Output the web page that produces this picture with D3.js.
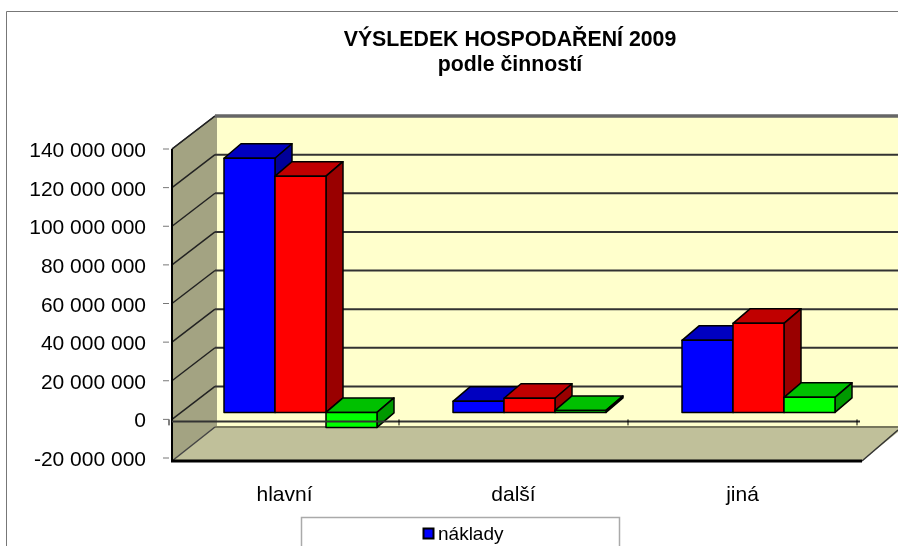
<!DOCTYPE html>
<html><head><meta charset="utf-8">
<script src="https://cdn.jsdelivr.net/npm/d3@7/dist/d3.min.js"></script>
<style>html,body{margin:0;padding:0;background:#fff;overflow:hidden}svg{display:block}text{font-family:"Liberation Sans",Arial,sans-serif;fill:#000}</style>
</head><body><svg id="c" width="898" height="546"></svg>
<script>
const categories = ["hlavní", "další", "jiná"];
const seriesNames = ["náklady", "výnosy", "výsledek"];
const naklady = [131600000, 5700000, 37300000];
const vynosy = [122300000, 7300000, 46100000];
const vysledek = [-7800000, 1000000, 7800000];
const yTicks = [-20000000, 0, 20000000, 40000000, 60000000, 80000000, 100000000, 120000000, 140000000];
const titleLines = ["VÝSLEDEK HOSPODAŘENÍ 2009", "podle činností"];
const fronts = ["#0000ff", "#ff0000", "#00ff00"];
const tops = ["#0000c0", "#c00000", "#00c000"];
const sides = ["#000099", "#990000", "#009900"];

const series = [naklady, vynosy, vysledek];
const svg = d3.select("#c");
const defs = svg.append("defs");
defs.append("filter").attr("id", "soft")
  .attr("filterUnits","userSpaceOnUse").attr("x",0).attr("y",0).attr("width",898).attr("height",546)
  .append("feGaussianBlur").attr("stdDeviation", 0.45);
const root = svg.append("g").attr("filter", "url(#soft)");

const DX = 43, DY = -33, W = 898;
const y = d3.scaleLinear().domain([-20000000, 140000000]).range([458, 149]);
const x = d3.scaleBand().domain(categories).range([170, 857]);
const groupInset = 54, groupWidth = 153;
const sx = d3.scaleBand().domain(d3.range(3)).range([0, groupWidth]);
const barShiftY = -7, bdx = 17, bdy = -14.5;
const poly = (g, pts, fill, stroke, sw) => g.append("polygon").attr("points", pts.map(p => p.join(",")).join(" "))
  .attr("fill", fill).attr("stroke", stroke || "none").attr("stroke-width", sw || 0).attr("stroke-linejoin", "round");
const line = (g, a, b, c, w) => g.append("line").attr("x1", a[0]).attr("y1", a[1]).attr("x2", b[0]).attr("y2", b[1]).attr("stroke", c).attr("stroke-width", w);

// outer frame
root.append("path").attr("d", "M6.5 546V11.5H898").attr("fill", "none").attr("stroke", "#777").attr("stroke-width", 1);

// title
titleLines.forEach((t, i) => root.append("text").attr("x", 510).attr("y", 46 + i * 25).attr("text-anchor", "middle")
  .attr("font-weight", "bold").attr("font-size", 21.3).text(t));

// walls
const x0 = 172, yLo = y(-20000000), yHi = y(140000000);
poly(root, [[x0 + DX, yHi + DY], [W, yHi + DY], [W, yLo + DY + 2], [x0 + DX, yLo + DY + 2]], "#ffffcc");
poly(root, [[x0, yHi], [x0 + DX, yHi + DY], [x0 + DX + 2, yHi + DY], [x0 + DX + 2, yLo + DY + 2], [x0, yLo + 3]], "#a3a382");
poly(root, [[x0, yLo + 3], [x0 + DX, yLo + DY + 2], [W, yLo + DY + 2], [W, yLo + DY + 7], [862, yLo + 3]], "#c0c09a");
line(root, [x0 + DX, yHi + DY], [W, yHi + DY], "#666", 3);
line(root, [x0, yHi], [x0 + DX, yHi + DY], "#333", 1.5);

// gridlines
yTicks.slice(1).forEach(v => {
  line(root, [x0, y(v)], [x0 + DX, y(v) + DY], "#222", 1.5);
  line(root, [x0 + DX, y(v) + DY], [W, y(v) + DY], "#333", 2);
});
// wall trim (the top gridline coincides with the top edge)
line(root, [x0 + DX, yHi + DY], [W, yHi + DY], "#666", 3);
line(root, [x0 + DX, yLo + DY + 2], [W, yLo + DY + 2], "#77775c", 2);
line(root, [x0, yLo + 3], [x0 + DX, yLo + DY + 2], "#444", 1.5);
line(root, [862, yLo + 3], [W, yLo + DY + 5], "#333", 1.5);
line(root, [x0, yHi], [x0, yLo + 4], "#000", 2);
line(root, [x0 - 1, yLo + 3], [862, yLo + 3], "#000", 3);

// bars
categories.forEach((c, ci) => {
  series.forEach((s, si) => {
    const v = s[ci];
    const bx = x(c) + groupInset + sx(si), bw = sx.bandwidth();
    const base = y(0) + barShiftY, end = y(v) + barShiftY;
    const topY = Math.min(base, end), botY = Math.max(base, end);
    const g = root.append("g");
    poly(g, [[bx, topY], [bx + bdx, topY + bdy], [bx + bw + bdx, topY + bdy], [bx + bw, topY]], tops[si], "#000", 1.5);
    poly(g, [[bx + bw, topY], [bx + bw + bdx, topY + bdy], [bx + bw + bdx, botY + bdy], [bx + bw, botY]], sides[si], "#000", 1.5);
    poly(g, [[bx, topY], [bx + bw, topY], [bx + bw, botY], [bx, botY]], fronts[si], "#000", 1.5);
  });
});

// zero line and ticks
line(root, [x0, y(0) + 2], [860, y(0) + 2], "#333", 2);
x.domain().forEach(c => {
  const t = x(c) + x.step();
  line(root, [t, y(0)], [t, y(0) + 6], "#000", 1);
});
line(root, [169, y(0)], [169, y(0) + 6], "#000", 1);

// y axis labels
const fmt = v => (v < 0 ? "-" : "") + d3.format(",")(Math.abs(v)).replace(/,/g, " ");
yTicks.forEach(v => {
  line(root, [163, y(v)], [169, y(v)], "#777", 1);
  root.append("text").attr("x", 146).attr("y", y(v) + 8).attr("text-anchor", "end").attr("font-size", 21).text(fmt(v));
});
// category labels
categories.forEach(c => root.append("text").attr("x", x(c) + x.step() / 2).attr("y", 501).attr("text-anchor", "middle").attr("font-size", 21).text(c));

// legend
root.append("path").attr("d", "M301.5 546V517.5H619.5V546").attr("fill", "#fff").attr("stroke", "#aaa").attr("stroke-width", 1.5);
root.append("rect").attr("x", 423.5).attr("y", 528.5).attr("width", 10).attr("height", 10).attr("fill", fronts[0]).attr("stroke", "#000").attr("stroke-width", 2);
root.append("text").attr("x", 438).attr("y", 540).attr("font-size", 19).text(seriesNames[0]);
</script></body></html>
